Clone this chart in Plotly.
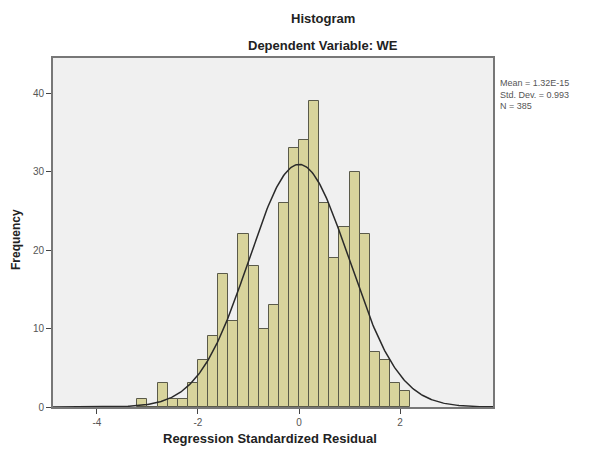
import numpy as np
import plotly.graph_objects as go

# Histogram bins (left edges) and counts
bin_width = 0.2
bin_left = [-3.2, -3.0, -2.8, -2.6, -2.4, -2.2, -2.0, -1.8, -1.6, -1.4, -1.2, -1.0, -0.8,
            -0.6, -0.4, -0.2, 0.0, 0.2, 0.4, 0.6, 0.8, 1.0, 1.2, 1.4, 1.6, 1.8, 2.0]
counts = [1, 0, 3, 1, 1, 3, 6, 9, 17, 11, 22, 18, 10, 13, 26, 33, 34, 39, 26, 19, 23, 30,
          22, 7, 6, 3, 2]

# Summary statistics
mean = 1.32e-15
std_dev = 0.993
n_obs = 385
stats_lines = ["Mean = 1.32E-15", "Std. Dev. = 0.993", "N = 385"]

x_ticks = [-4, -2, 0, 2]
y_ticks = [0, 10, 20, 30, 40]

centers = [b + bin_width / 2 for b in bin_left]

# Fitted normal curve
xc = np.linspace(-4.87, 3.84, 400)
yc = n_obs * bin_width * np.exp(-0.5 * ((xc - mean) / std_dev) ** 2) / (std_dev * np.sqrt(2 * np.pi))

font_family = "Arial, Liberation Sans, sans-serif"

fig = go.Figure()
fig.add_trace(go.Bar(
    x=centers, y=counts, width=bin_width,
    marker=dict(color="#D8D49C", line=dict(color="#5a5a4a", width=1)),
    showlegend=False,
))
fig.add_trace(go.Scatter(
    x=xc, y=yc, mode="lines",
    line=dict(color="#2a2a2a", width=1.5),
    showlegend=False,
))

# page offset of the figure (body margin) is 8px; work in page coordinates
OFF = 8
W, H = 590 - OFF, 449 - OFF
pl, pr, pt, pb = 53 - OFF, 590 - 493, 58 - OFF, 449 - 407
pw, ph = W - pl - pr, H - pt - pb

fig.update_layout(
    width=W, height=H,
    margin=dict(l=pl, r=pr, t=pt, b=pb, autoexpand=False),
    paper_bgcolor="white",
    plot_bgcolor="#F0F0F0",
    bargap=0,
    font=dict(family=font_family, color="#555555", size=10),
)

def px(xp):
    return (xp - OFF - pl) / pw

def py(yp):
    return (H - pb - (yp - OFF)) / ph

title_font = dict(size=13, color="#222222")
fig.add_annotation(text="<b>Histogram</b>", x=px(323), y=py(18), xref="paper", yref="paper",
                   xanchor="center", yanchor="middle", showarrow=False, font=title_font)
fig.add_annotation(text="<b>Dependent Variable: WE</b>", x=px(323), y=py(45), xref="paper", yref="paper",
                   xanchor="center", yanchor="middle", showarrow=False, font=title_font)
fig.add_annotation(text="<b>Regression Standardized Residual</b>", x=px(270), y=py(438),
                   xref="paper", yref="paper", xanchor="center", yanchor="middle",
                   showarrow=False, font=title_font)
fig.add_annotation(text="<b>Frequency</b>", x=px(16), y=py(240), xref="paper", yref="paper",
                   xanchor="center", yanchor="middle",
                   showarrow=False, textangle=-90, font=dict(size=12, color="#222222"))
fig.add_annotation(text="<br>".join(stats_lines), x=px(498), y=py(76), xref="paper", yref="paper",
                   xanchor="left", yanchor="top", align="left", showarrow=False,
                   font=dict(size=9, color="#555555"))

fig.update_xaxes(
    range=[-4.87, 3.84], tickvals=x_ticks, ticktext=[str(t) for t in x_ticks],
    showgrid=False, zeroline=False, showline=True, linecolor="#777777", linewidth=2,
    mirror=True, ticks="outside", ticklen=5, tickcolor="#444444",
    tickfont=dict(size=10, color="#555555"),
)
fig.update_yaxes(
    range=[0, 44.5], tickvals=y_ticks,
    showgrid=False, zeroline=False, showline=True, linecolor="#777777", linewidth=2,
    mirror=True, ticks="outside", ticklen=5, tickcolor="#444444",
    tickfont=dict(size=10, color="#555555"),
)

fig.write_html("out.html")
